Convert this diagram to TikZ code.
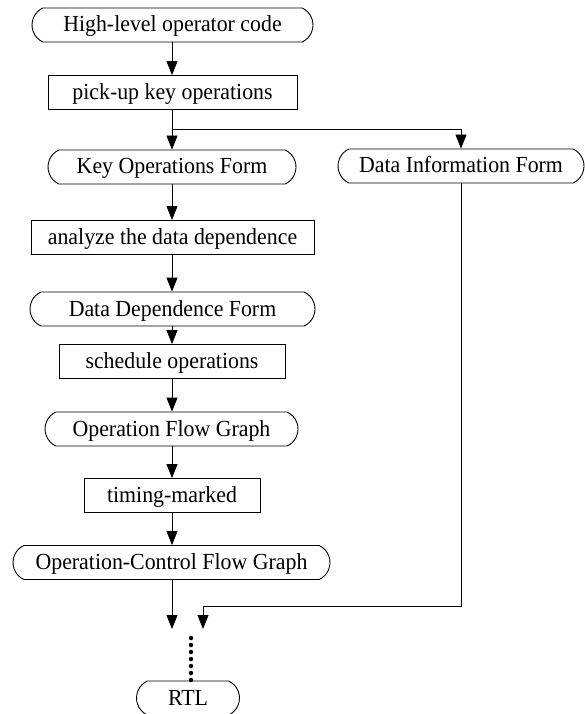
\documentclass[tikz,border=0pt]{standalone}
\usepackage{fontspec}
\setmainfont[FakeStretch=0.95]{Liberation Serif}
\usetikzlibrary{shapes.misc,arrows.meta}

\tikzset{
  x=1pt, y=-1pt,
  every node/.style={font=\fontsize{23}{26}\selectfont, inner sep=0pt, line width=0.9pt,
                     text height=16pt, text depth=2pt},
  formbox/.style={draw, rounded rectangle, rounded rectangle arc length=130, minimum height=34pt},
  stepbox/.style={draw, rectangle, minimum height=34pt},
  flow/.style={line width=0.9pt, -{Triangle[length=14pt,width=11pt]}},
  dots/.style={line width=4.5pt, line cap=round, dash pattern=on 0pt off 7pt}
}

\begin{document}
\begin{tikzpicture}
\useasboundingbox (0,0) rectangle (585,714);

% main column of forms and processing steps
\node[formbox, minimum width=281pt] (hl)    at (172.5,25)  {High-level operator code};
\node[stepbox, minimum width=249pt] (pick)  at (172.5,92.5) {pick-up key operations};
\node[formbox, minimum width=248pt] (kof)   at (172,167)   {Key Operations Form};
\node[formbox, minimum width=246pt] (dif)   at (461,166)   {Data Information Form};
\node[stepbox, minimum width=283pt] (ana)   at (172.5,237.5) {analyze the data dependence};
\node[formbox, minimum width=285pt] (ddf)   at (172.5,309) {Data Dependence Form};
\node[stepbox, minimum width=226pt] (sch)   at (172,361.5) {schedule operations};
\node[formbox, minimum width=253pt] (ofg)   at (171.5,429) {Operation Flow Graph};
\node[stepbox, minimum width=176pt] (tim)   at (172,495.5) {timing-marked};
\node[formbox, minimum width=317pt] (ocfg)  at (171.5,562.5) {Operation-Control Flow Graph};
\node[formbox, minimum width=103pt] (rtl)   at (188,698) {RTL};

% helper points
\coordinate (split) at (172,129);
\coordinate (lefttip) at (172,629);
\coordinate (turn) at (461,606);
\coordinate (righttip) at (203,629);
\coordinate (dottop) at (191,638);
\coordinate (dotbot) at (191,681);

% connectors
\draw[flow] (hl.south -| 172,0) -- (pick.north -| 172,0);
\draw[flow] (pick.south -| 172,0) -- (kof.north -| 172,0);
\draw[flow] (split) -| (dif.north);
\draw[flow] (kof.south -| 172,0) -- (ana.north -| 172,0);
\draw[flow] (ana.south -| 172,0) -- (ddf.north -| 172,0);
\draw[flow] (ddf.south -| 172,0) -- (sch.north -| 172,0);
\draw[flow] (sch.south -| 172,0) -- (ofg.north -| 172,0);
\draw[flow] (ofg.south -| 172,0) -- (tim.north -| 172,0);
\draw[flow] (tim.south -| 172,0) -- (ocfg.north -| 172,0);
\draw[flow] (ocfg.south -| 172,0) -- (lefttip);
\draw[flow] (dif.south) -- (turn) -| (righttip);
\draw[dots] (dottop) -- (dotbot);
\end{tikzpicture}
\end{document}
